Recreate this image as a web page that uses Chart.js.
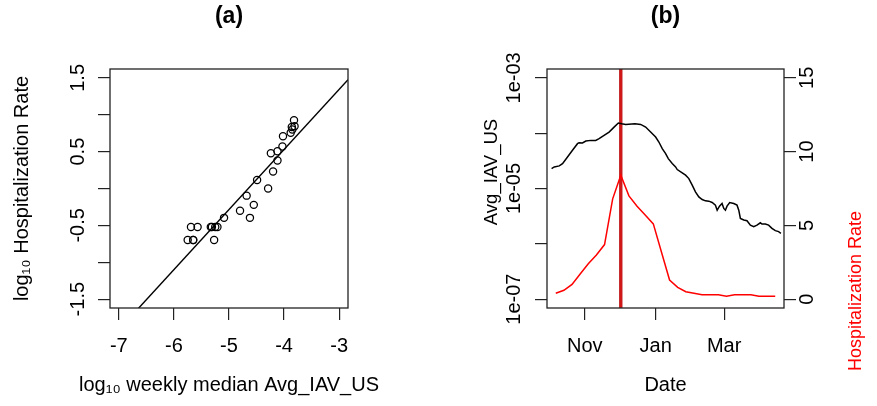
<!DOCTYPE html>
<html><head><meta charset="utf-8">
<script src="https://cdn.jsdelivr.net/npm/chart.js@4.4.1/dist/chart.umd.min.js"></script>
<style>
html,body{margin:0;padding:0;background:#fff;}
#wrap{position:relative;width:877px;height:406px;overflow:hidden;background:#fff;}
canvas{position:absolute;top:0;}
#ca{left:0;} #cb{left:438px;}
</style></head><body>
<div id="wrap"><canvas id="ca" width="438" height="406"></canvas><canvas id="cb" width="439" height="406"></canvas></div>
<script>
// ---------------- data ----------------
const originDate = '2018-11-01';
const weekDates = ['2018-10-07','2018-10-14','2018-10-21','2018-10-28','2018-11-04','2018-11-11','2018-11-18','2018-11-25',
  '2018-12-02','2018-12-09','2018-12-16','2018-12-23','2018-12-30','2019-01-06','2019-01-13','2019-01-20','2019-01-27',
  '2019-02-03','2019-02-10','2019-02-17','2019-02-24','2019-03-03','2019-03-10','2019-03-17','2019-03-24','2019-03-31',
  '2019-04-07','2019-04-14'];
const hospRate = [0.4,0.6,1.0,1.7,2.4,3.0,3.7,6.8,8.4,7.0,6.3,5.7,5.1,3.2,1.3,0.8,0.5,0.4,0.3,0.3,0.3,0.2,0.3,0.3,0.3,0.2,0.2,0.2];
const weeklyMedianLog10IAV = [-4.62,-4.55,-4.29,-4.20,-4.12,-4.24,-4.03,-3.86,-3.82,-3.81,-3.85,-3.88,-4.02,-4.12,-4.49,
  -4.68,-4.80,-5.09,-5.21,-5.25,-5.31,-5.27,-5.33,-5.57,-5.69,-5.65,-5.65,-5.75];
const iavDay = [-28.6,-26.3,-22.0,-19.2,-14.9,-10.6,-6.3,-4.9,-2.0,0.9,5.2,9.4,12.3,16.6,20.9,25.2,28.9,31.8,35.2,43.2,
  48.1,52.4,56.7,61.0,63.8,66.7,69.6,71.9,75.3,78.2,79.6,83.9,86.8,89.6,92.5,95.3,98.2,101.1,103.9,106.8,
  109.7,112.5,114.0,116.0,118.2,119.7,121.1,122.5,124.8,128.3,131.1,132.6,134.0,136.9,139.7,142.6,145.5,148.3,151.2,152.6,
  155.5,158.3,161.2,164.1,166.9,168.9];
const iavValue = [2.29e-5,2.45e-5,2.56e-5,2.82e-5,3.72e-5,4.90e-5,6.46e-5,6.73e-5,6.64e-5,7.21e-5,7.41e-5,7.41e-5,7.94e-5,9.12e-5,
  1.047e-4,1.288e-4,1.524e-4,1.483e-4,1.442e-4,1.483e-4,1.442e-4,1.291e-4,1.050e-4,8.51e-5,6.92e-5,5.25e-5,4.27e-5,3.47e-5,
  2.82e-5,2.45e-5,2.20e-5,1.91e-5,1.74e-5,1.51e-5,1.15e-5,8.69e-6,7.06e-6,6.32e-6,5.98e-6,5.90e-6,5.58e-6,5.00e-6,4.06e-6,
  4.80e-6,5.36e-6,4.36e-6,4.06e-6,4.80e-6,5.58e-6,5.36e-6,5.00e-6,4.06e-6,2.88e-6,2.69e-6,2.61e-6,2.18e-6,2.04e-6,2.18e-6,
  2.40e-6,2.28e-6,2.28e-6,2.18e-6,1.90e-6,1.73e-6,1.66e-6,1.55e-6];
const fitIntercept = 3.79;
const fitSlope = 0.815;

const aXRange = [-7, -3];
const aYRange = [-1.5, 1.5];
const aXTicks = [-7,-6,-5,-4,-3];
const aXTickLabels = ['-7','-6','-5','-4','-3'];
const aYTicks = [-1.5,-1,-0.5,0,0.5,1,1.5];
const aYTickLabels = ['-1.5','','-0.5','','0.5','','1.5'];
const bXTickDates = ['2018-11-01','2019-01-01','2019-03-01'];
const bXTickLabels = ['Nov','Jan','Mar'];
const bYRange = [1e-7, 1e-3];
const bYTicks = [1e-7,1e-6,1e-5,1e-4,1e-3];
const bYTickLabels = ['1e-07','','1e-05','','1e-03'];
const bY2Range = [0, 15];
const bY2Ticks = [0,5,10,15];
const bY2TickLabels = ['0','5','10','15'];

const titleA = '(a)', titleB = '(b)';
const aXTitle = 'log\u2081\u2080 weekly median Avg_IAV_US';
const aYTitle = 'log\u2081\u2080 Hospitalization Rate';
const bXTitle = 'Date';
const bYTitle = 'Avg_IAV_US';
const bY2Title = 'Hospitalization Rate';

// ---------------- helpers ----------------
const FONT = '"Liberation Sans", Arial, Helvetica, sans-serif';
const FS = 20;
const dayOf = d => (Date.parse(d) - Date.parse(originDate)) / 86400000;
const ext = (lo, hi) => { const p = (hi - lo) * 0.04; return [lo - p, hi + p]; };
const extLog = (lo, hi) => { const a = Math.log10(lo), b = Math.log10(hi), p = (b - a) * 0.04; return [Math.pow(10, a - p), Math.pow(10, b + p)]; };

function axisBase(tickVals, tickLabels, pad, rot) {
  return {
    bounds: 'data',
    grid: { display: true, drawOnChartArea: false, drawTicks: true, tickLength: 12, color: '#222', lineWidth: 1.2 },
    border: { display: false },
    afterBuildTicks: s => { s.ticks = tickVals.map(v => ({ value: v })); },
    ticks: {
      font: { family: FONT, size: FS }, color: '#000', autoSkip: false, padding: pad,
      minRotation: rot, maxRotation: rot, crossAlign: 'center',
      callback: (v, i) => tickLabels[i]
    }
  };
}
function axisTitle(text, pad) {
  return { display: true, text, color: '#000', font: { family: FONT, size: FS }, padding: pad };
}

// frame box + free-standing axis titles (drawn without width clamping)
const frame = {
  id: 'frame',
  afterDraw(chart, args, opts) {
    const { ctx, chartArea: a } = chart;
    ctx.save();
    ctx.strokeStyle = '#222'; ctx.lineWidth = 1.3;
    ctx.strokeRect(a.left, a.top, a.right - a.left, a.bottom - a.top);
    (opts.texts || []).forEach(t => {
      ctx.save();
      ctx.fillStyle = t.color || '#000'; ctx.font = (t.size || FS) + 'px ' + FONT;
      ctx.textAlign = 'center'; ctx.textBaseline = 'middle';
      ctx.translate(t.x, t.y); if (t.vertical) ctx.rotate(-Math.PI / 2);
      ctx.fillText(t.text, 0, 0);
      ctx.restore();
    });
    ctx.restore();
  }
};
Chart.register(frame);

function titleOpts(text) {
  return { display: true, text, fullSize: false, color: '#000',
    font: { family: FONT, size: 23, weight: 'bold' }, padding: { top: 3, bottom: 38.4 } };
}

// ---------------- panel (a) ----------------
const aX = ext(aXRange[0], aXRange[1]);
const aY = ext(aYRange[0], aYRange[1]);
const scatterPts = weeklyMedianLog10IAV.map((x, i) => ({ x, y: Math.log10(hospRate[i]) }));
const fitPts = aX.map(x => ({ x, y: fitIntercept + fitSlope * x }));

const axA = axisBase(aXTicks, aXTickLabels, 26, 0);
axA.min = aX[0]; axA.max = aX[1]; axA.type = 'linear'; axA.position = 'bottom';
axA.afterFit = s => { s.height = 98; };
const ayA = axisBase(aYTicks, aYTickLabels, 2, 90);
ayA.min = aY[0]; ayA.max = aY[1]; ayA.type = 'linear'; ayA.position = 'left';
ayA.title = axisTitle(aYTitle, { top: 10, bottom: 0 });
ayA.afterFit = s => { s.width = 110; };

new Chart(document.getElementById('ca'), {
  type: 'scatter',
  data: { datasets: [
    { data: scatterPts, showLine: false, pointRadius: 3.6, pointBorderWidth: 1.25,
      pointBorderColor: '#000', pointBackgroundColor: 'rgba(0,0,0,0)' },
    { data: fitPts, showLine: true, pointRadius: 0, borderColor: '#000', borderWidth: 1.4 }
  ] },
  options: {
    responsive: false, animation: false, devicePixelRatio: 1,
    layout: { padding: { left: 0, right: 90, top: 0, bottom: 0 } },
    plugins: { legend: { display: false }, tooltip: { enabled: false }, title: titleOpts(titleA),
      frame: { texts: [{ text: aXTitle, x: 229, y: 385, size: 20 }] } },
    scales: { x: axA, y: ayA }
  }
});

// ---------------- panel (b) ----------------
const wDays = weekDates.map(dayOf);
const bX = ext(Math.min(...wDays), Math.max(...wDays));
const bY = extLog(bYRange[0], bYRange[1]);
const bY2 = ext(bY2Range[0], bY2Range[1]);
const peakIdx = hospRate.indexOf(Math.max(...hospRate));
const peakDay = wDays[peakIdx];

const axB = axisBase(bXTickDates.map(dayOf), bXTickLabels, 26, 0);
axB.min = bX[0]; axB.max = bX[1]; axB.type = 'linear'; axB.position = 'bottom';
axB.title = axisTitle(bXTitle, { top: 0, bottom: 9 });
axB.afterFit = s => { s.height = 98; };
const ayB = axisBase(bYTicks, bYTickLabels, -5, 90);
ayB.min = bY[0]; ayB.max = bY[1]; ayB.type = 'logarithmic'; ayB.position = 'left';
ayB.afterFit = s => { s.width = 109; };
const ay2B = axisBase(bY2Ticks, bY2TickLabels, 0, 90);
ay2B.min = bY2[0]; ay2B.max = bY2[1]; ay2B.type = 'linear'; ay2B.position = 'right';
ay2B.afterFit = s => { s.width = 93; };

new Chart(document.getElementById('cb'), {
  type: 'scatter',
  data: { datasets: [
    { data: iavDay.map((d, i) => ({ x: d, y: iavValue[i] })), yAxisID: 'y', showLine: true, pointRadius: 0,
      borderColor: '#000', borderWidth: 1.5 },
    { data: wDays.map((d, i) => ({ x: d, y: hospRate[i] })), yAxisID: 'y2', showLine: true, pointRadius: 0,
      borderColor: '#ff0000', borderWidth: 1.5 },
    { data: [{ x: peakDay, y: bY2[0] }, { x: peakDay, y: bY2[1] }], yAxisID: 'y2', showLine: true, pointRadius: 0,
      borderColor: '#d01818', borderWidth: 3.2 },
    { data: [{ x: peakDay, y: bY2[0] }, { x: peakDay, y: bY2[1] }], yAxisID: 'y2', showLine: true, pointRadius: 0,
      borderColor: '#3d0000', borderWidth: 2.6 }
  ] },
  options: {
    responsive: false, animation: false, devicePixelRatio: 1,
    layout: { padding: 0 },
    plugins: { legend: { display: false }, tooltip: { enabled: false }, title: titleOpts(titleB),
      frame: { texts: [
        { text: bYTitle, x: 54, y: 172, vertical: true, size: 18.5 },
        { text: bY2Title, x: 418, y: 291, vertical: true, size: 18, color: '#ff0000' }
      ] } },
    scales: { x: axB, y: ayB, y2: ay2B }
  }
});
</script>
</body></html>
